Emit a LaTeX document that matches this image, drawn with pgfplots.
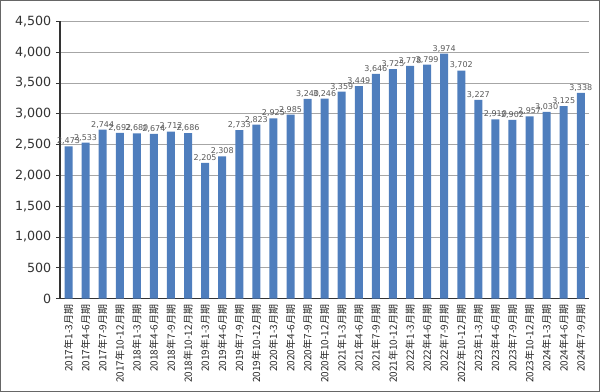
\documentclass[border=0pt]{standalone}
\usepackage{pgfplots}
\pgfplotsset{compat=1.18}
\usepackage{fontspec}
\setmainfont{DejaVu Sans}
\newfontfamily\cjk{Noto Sans CJK JP}
\definecolor{barblue}{HTML}{4F7EBD}
\definecolor{gridgray}{HTML}{A6A6A6}
\begin{document}
\begin{tikzpicture}
\begin{axis}[
  scale only axis,
  width=397pt, height=208pt,
  ymin=0, ymax=4500,
  ytick={0,500,...,4500},
  xmin=-0.5, xmax=30.5,
  axis lines*=left,
  axis line style={black!80, line width=0.8pt},
  ymajorgrids,
  grid style={gridgray, line width=0.6pt},
  /pgf/number format/assume math mode=true,
  /pgf/number format/1000 sep={,},
  yticklabel style={font=\fontsize{9.5}{10}\selectfont, text=black!80},
  y tick style={black!80, line width=0.6pt},
  tick align=outside,
  major tick length=3pt,
  xtick={0,...,30},
  x tick style={draw=none},
  minor xtick={-0.5,0.5,...,30.5},
  minor x tick style={black!80, line width=0.6pt},
  minor tick length=3pt,
  xticklabels={
    2017年1-3月期,2017年4-6月期,2017年7-9月期,2017年10-12月期,
    2018年1-3月期,2018年4-6月期,2018年7-9月期,2018年10-12月期,
    2019年1-3月期,2019年4-6月期,2019年7-9月期,2019年10-12月期,
    2020年1-3月期,2020年4-6月期,2020年7-9月期,2020年10-12月期,
    2021年1-3月期,2021年4-6月期,2021年7-9月期,2021年10-12月期,
    2022年1-3月期,2022年4-6月期,2022年7-9月期,2022年10-12月期,
    2023年1-3月期,2023年4-6月期,2023年7-9月期,2023年10-12月期,
    2024年1-3月期,2024年4-6月期,2024年7-9月期},
  xticklabel style={rotate=90, anchor=east, font=\cjk\fontsize{7.5}{8}\selectfont, text=black!85, inner sep=1.5pt},
  nodes near coords,
  every node near coord/.append style={font=\fontsize{6}{6.5}\selectfont, text=black!65, inner sep=1pt},
  clip=false,
]
\addplot[ybar, bar width=6pt, fill=barblue, draw=none] coordinates {
(0,2473) (1,2533) (2,2744) (3,2692) (4,2680) (5,2674) (6,2712) (7,2686)
(8,2205) (9,2308) (10,2733) (11,2823) (12,2925) (13,2985) (14,3240) (15,3246)
(16,3359) (17,3449) (18,3646) (19,3725) (20,3778) (21,3799) (22,3974) (23,3702)
(24,3227) (25,2910) (26,2902) (27,2957) (28,3030) (29,3125) (30,3338)};
\end{axis}
\useasboundingbox (-45pt,-70pt) rectangle (405pt,224pt);
\draw[black!60, line width=1pt] (-44.5pt,-69.5pt) rectangle (404.5pt,223.5pt);
\end{tikzpicture}
\end{document}
